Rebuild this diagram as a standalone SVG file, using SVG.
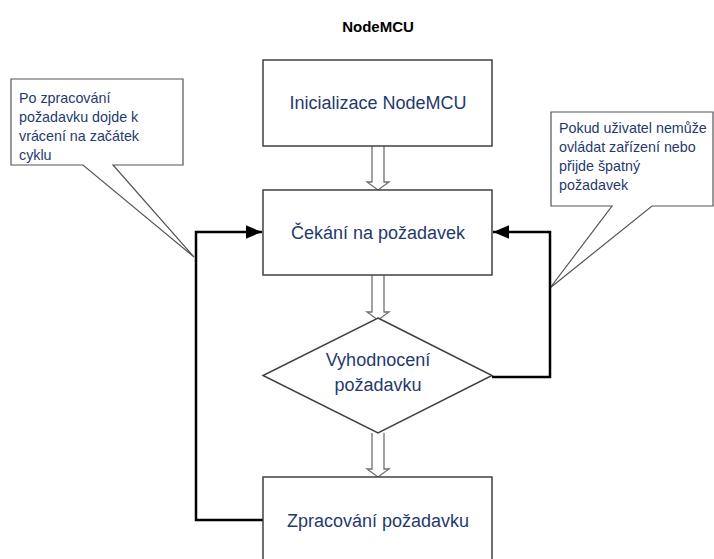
<svg xmlns="http://www.w3.org/2000/svg" width="714" height="559" viewBox="0 0 714 559">
<defs>
<style>
.box{fill:#fff;stroke:#404040;stroke-width:1.5}
.call{fill:#fff;stroke:#555;stroke-width:1.2}
.lbl{font-family:"Liberation Sans",Arial,sans-serif;font-size:18px;fill:#1f3a6e;text-anchor:middle}
.note{font-family:"Liberation Sans",Arial,sans-serif;font-size:14.3px;fill:#1f3a6e}
.title{font-family:"Liberation Sans",Arial,sans-serif;font-size:15px;font-weight:bold;fill:#000;text-anchor:middle}
.blk{fill:#fff;stroke:#707070;stroke-width:1.3}
.conn{fill:none;stroke:#000;stroke-width:2.5}
</style>
<marker id="ah" viewBox="0 0 12 10" refX="12" refY="5" markerWidth="6.4" markerHeight="5.6" orient="auto" markerUnits="strokeWidth">
<path d="M0,0 L12,5 L0,10 Z" fill="#000"/>
</marker>
</defs>
<rect width="714" height="559" fill="#fff"/>
<text class="title" x="378" y="32">NodeMCU</text>

<g id="note-left">
<path class="call" d="M11,79 H183 V165 H113 L194,257 L83,165 H11 Z"/>
<text class="note" x="19" y="103">Po zpracování</text>
<text class="note" x="19" y="122">požadavku dojde k</text>
<text class="note" x="19" y="141">vrácení na začátek</text>
<text class="note" x="19" y="160">cyklu</text>
</g>

<g id="note-right">
<path class="call" d="M551,112 H713 V206 H652 L550,288 L612,206 H551 Z"/>
<text class="note" x="559" y="133">Pokud uživatel nemůže</text>
<text class="note" x="559" y="152">ovládat zařízení nebo</text>
<text class="note" x="559" y="171">přijde špatný</text>
<text class="note" x="559" y="190">požadavek</text>
</g>

<g id="connectors">
<path class="blk" d="M372,146 V182 H367 L378,190 L389,182 H384 V146"/>
<path class="blk" d="M372,275 V312 H367 L378,320 L389,312 H384 V275"/>
<path class="blk" d="M372,433 V469 H367 L378,477 L389,469 H384 V433"/>
<path class="conn" d="M263,520 H196 V232 H262" marker-end="url(#ah)"/>
<path class="conn" d="M492,377 H550 V232 H493" marker-end="url(#ah)"/>
</g>

<g id="init">
<rect class="box" x="263" y="60" width="229" height="86"/>
<text class="lbl" x="378" y="109">Inicializace NodeMCU</text>
</g>

<g id="wait">
<rect class="box" x="263" y="190" width="229" height="85"/>
<text class="lbl" x="378" y="239">Čekání na požadavek</text>
</g>

<g id="eval">
<path class="box" d="M378,318 L492,375.5 L378,433 L263,375.5 Z"/>
<text class="lbl" x="378" y="366">Vyhodnocení</text>
<text class="lbl" x="378" y="391">požadavku</text>
</g>

<g id="process">
<rect class="box" x="263" y="477" width="229" height="100"/>
<text class="lbl" x="378" y="527">Zpracování požadavku</text>
</g>
</svg>
